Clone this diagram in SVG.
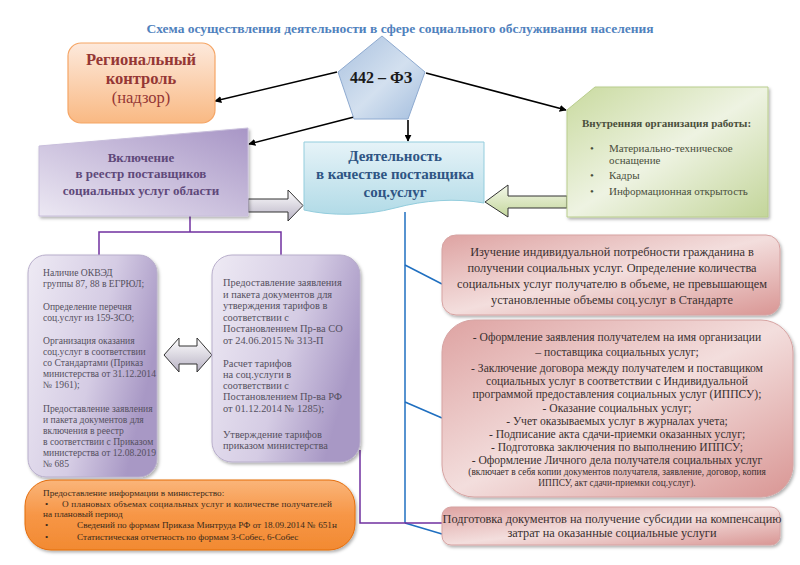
<svg xmlns="http://www.w3.org/2000/svg" width="800" height="565" viewBox="0 0 800 565" font-family="'Liberation Serif', 'DejaVu Serif', 'Times New Roman', serif">
<style>
svg text{font-family:'Liberation Serif','DejaVu Serif','Times New Roman',serif}
.title{font-size:13.5px;font-weight:bold;fill:#4f81bd}
.reg{font-size:16.5px;fill:#953735;text-anchor:middle}
.b{font-weight:bold}
.law{font-size:16px;font-weight:bold;fill:#1a1a1a;text-anchor:middle}
.incl{font-size:13px;font-weight:bold;fill:#5f497a;text-anchor:middle}
.act{font-size:15px;font-weight:bold;fill:#2f5584;text-anchor:middle}
.grn{font-size:11px;fill:#4a4f3c}
.lft{font-size:9.6px;fill:#555060}
.mid{font-size:10.4px;fill:#555060}
.pk{font-size:12.3px;fill:#3a3030;text-anchor:middle}
.pk2{font-size:11.6px;fill:#3a3030;text-anchor:middle}
.pks{font-size:9.4px;fill:#3a3030;text-anchor:middle}
.org{font-size:9.2px;fill:#3a2a1a}
.blk{stroke:#000;stroke-width:1.6;fill:none;marker-end:url(#ah)}
.blu{stroke:#1f6fc0;stroke-width:1.5;fill:none}
.pur{stroke:#7030a0;stroke-width:1.5;fill:none}
</style>
<defs>
<marker id="ah" viewBox="0 0 10 10" refX="9" refY="5" markerWidth="7" markerHeight="7" orient="auto-start-reverse" markerUnits="userSpaceOnUse">
<path d="M0,0 L10,5 L0,10 z" fill="#000"/>
</marker>
<filter id="sh" x="-10%" y="-10%" width="125%" height="130%">
<feDropShadow dx="1.5" dy="2" stdDeviation="1.5" flood-color="#000" flood-opacity="0.3"/>
</filter>
<linearGradient id="gOr" x1="0" y1="0" x2="0" y2="1"><stop offset="0" stop-color="#fde9dc"/><stop offset="1" stop-color="#f9b983"/></linearGradient>
<linearGradient id="gPent" x1="0" y1="0" x2="1" y2="1"><stop offset="0" stop-color="#a9c1df"/><stop offset="0.55" stop-color="#d3e0ef"/><stop offset="1" stop-color="#a4bede"/></linearGradient>
<linearGradient id="gPur" x1="1" y1="0" x2="0" y2="1"><stop offset="0" stop-color="#a896c6"/><stop offset="1" stop-color="#ece8f3"/></linearGradient>
<linearGradient id="gBlu" x1="0" y1="0" x2="0" y2="1"><stop offset="0" stop-color="#e6f3f8"/><stop offset="1" stop-color="#b2dbe7"/></linearGradient>
<linearGradient id="gGrn" x1="0" y1="0" x2="1" y2="1"><stop offset="0" stop-color="#c9da9f"/><stop offset="0.5" stop-color="#eef3e2"/><stop offset="1" stop-color="#c3d59a"/></linearGradient>
<linearGradient id="gLav" x1="0" y1="0" x2="1" y2="0.4"><stop offset="0" stop-color="#eeeaf4"/><stop offset="0.6" stop-color="#d5cce4"/><stop offset="1" stop-color="#a898c5"/></linearGradient>
<linearGradient id="gPk" x1="0" y1="0" x2="1" y2="1"><stop offset="0" stop-color="#dea3a2"/><stop offset="0.5" stop-color="#f3dedd"/><stop offset="1" stop-color="#d99694"/></linearGradient>
<linearGradient id="gOrg" x1="0" y1="0" x2="0" y2="1"><stop offset="0" stop-color="#fab57a"/><stop offset="0.5" stop-color="#f79646"/><stop offset="1" stop-color="#f28a32"/></linearGradient>
<linearGradient id="gArr" x1="0" y1="0" x2="0" y2="1"><stop offset="0" stop-color="#ffffff"/><stop offset="1" stop-color="#b8b2c4"/></linearGradient>
<linearGradient id="gArrG" x1="0" y1="0" x2="0" y2="1"><stop offset="0" stop-color="#f4f8ea"/><stop offset="1" stop-color="#c3d69b"/></linearGradient>
</defs>
<rect width="800" height="565" fill="#fff"/>
<text class="title" x="400" y="33" text-anchor="middle">Схема осуществления деятельности в сфере социального обслуживания населения</text>
<g id="connectors">
<line class="blk" x1="337" y1="72" x2="215" y2="101"/>
<line class="blk" x1="426" y1="73" x2="566" y2="110"/>
<line class="blk" x1="354" y1="117" x2="249" y2="144"/>
<line class="blk" x1="408" y1="120" x2="408" y2="141"/>
<polyline class="blu" points="405,212 405,523"/>
<line class="blu" x1="405" y1="265" x2="442" y2="284"/>
<line class="blu" x1="405" y1="402" x2="442" y2="418"/>
<line class="blu" x1="405" y1="523" x2="442" y2="534"/>
<polyline class="pur" points="190,216 190,232"/>
<polyline class="pur" points="99,255 99,232 281,232 281,255"/>
<polyline class="pur" points="360,450 360,523 442,523"/>
<polygon points="248,199 288,199 288,190 303,205.5 288,221 288,212 248,212" fill="url(#gArr)" stroke="#333" stroke-width="1"/>
<polygon points="567,196 508,196 508,185 485,202 508,217 508,208 567,208" fill="url(#gArrG)" stroke="#333" stroke-width="1"/>
<polygon points="164,355 179,338 179,346 197,346 197,338 212,355 197,372 197,364 179,364 179,372" fill="url(#gArr)" stroke="#333" stroke-width="1"/>
</g>
<g id="regional">
<rect x="68" y="43" width="147" height="80" rx="13" fill="url(#gOr)" stroke="#f5a565" stroke-width="1.2"/>
<text class="reg b" x="141" y="65">Региональный</text>
<text class="reg b" x="141" y="84">контроль</text>
<text class="reg" x="141" y="103">(надзор)</text>
</g>
<g id="law">
<polygon points="382,36 425,72 408,119 354,119 338,72" fill="url(#gPent)" stroke="#8eaad0" stroke-width="1"/>
<text class="law" x="381" y="83">442 – ФЗ</text>
</g>
<g id="inner">
<polygon points="567,110 595,87 768,87 768,217 567,217" fill="url(#gGrn)" stroke="#b9cd8c" stroke-width="1" filter="url(#sh)"/>
<text class="grn b" x="582" y="127" font-size="10.6px">Внутренняя организация работы:</text>
<text class="grn" x="590" y="152">•</text><text class="grn" x="609" y="152">Материально-техническое</text>
<text class="grn" x="609" y="164">оснащение</text>
<text class="grn" x="590" y="179">•</text><text class="grn" x="609" y="179">Кадры</text>
<text class="grn" x="590" y="195">•</text><text class="grn" x="609" y="195">Информационная открытость</text>
</g>
<g id="inclusion">
<polygon points="39,146 248,128 248,216 39,216" fill="url(#gPur)" stroke="#c8bedb" stroke-width="1" filter="url(#sh)"/>
<text class="incl" x="141" y="162">Включение</text>
<text class="incl" x="141" y="178">в реестр поставщиков</text>
<text class="incl" x="141" y="195">социальных услуг области</text>
</g>
<g id="activity">
<path d="M304,142 H484 V203 C455,198 425,200 395,208 C365,216 330,216 304,210 Z" fill="url(#gBlu)" stroke="#93cddd" stroke-width="1"/>
<text class="act" x="395" y="161">Деятельность</text>
<text class="act" x="395" y="179">в качестве поставщика</text>
<text class="act" x="395" y="197">соц.услуг</text>
</g>
<g id="left-box">
<rect x="28" y="255" width="129" height="222" rx="18" fill="url(#gLav)" stroke="#b8aecb" stroke-width="1" filter="url(#sh)"/>
<text class="lft" x="43" y="276">Наличие ОКВЭД</text>
<text class="lft" x="43" y="287">группы 87, 88 в ЕГРЮЛ;</text>
<text class="lft" x="43" y="310">Определение перечня</text>
<text class="lft" x="43" y="321">соц.услуг из 159-ЗСО;</text>
<text class="lft" x="43" y="344">Организация оказания</text>
<text class="lft" x="43" y="355">соц.услуг в соответствии</text>
<text class="lft" x="43" y="366">со Стандартами (Приказ</text>
<text class="lft" x="43" y="377">министерства от 31.12.2014</text>
<text class="lft" x="43" y="388">№ 1961);</text>
<text class="lft" x="43" y="412">Предоставление заявления</text>
<text class="lft" x="43" y="423">и пакета документов для</text>
<text class="lft" x="43" y="434">включения в реестр</text>
<text class="lft" x="43" y="445">в соответствии с Приказом</text>
<text class="lft" x="43" y="456">министерства от 12.08.2019</text>
<text class="lft" x="43" y="467">№ 685</text>
</g>
<g id="mid-box">
<rect x="212" y="255" width="148" height="207" rx="20" fill="url(#gLav)" stroke="#b8aecb" stroke-width="1" filter="url(#sh)"/>
<text class="mid" x="223" y="286">Предоставление заявления</text>
<text class="mid" x="223" y="298">и пакета документов для</text>
<text class="mid" x="223" y="309">утверждения тарифов в</text>
<text class="mid" x="223" y="321">соответствии с</text>
<text class="mid" x="223" y="332">Постановлением Пр-ва СО</text>
<text class="mid" x="223" y="344">от 24.06.2015 № 313-П</text>
<text class="mid" x="223" y="367">Расчет тарифов</text>
<text class="mid" x="223" y="378">на соц.услуги в</text>
<text class="mid" x="223" y="389">соответствии с</text>
<text class="mid" x="223" y="400">Постановлением Пр-ва РФ</text>
<text class="mid" x="223" y="412">от 01.12.2014 № 1285);</text>
<text class="mid" x="223" y="438">Утверждение тарифов</text>
<text class="mid" x="223" y="449">приказом министерства</text>
</g>
<g id="pink1">
<rect x="442" y="235" width="338" height="80" rx="14" fill="url(#gPk)" stroke="#d6a3a2" stroke-width="1" filter="url(#sh)"/>
<text class="pk" x="612" y="256">Изучение индивидуальной потребности гражданина в</text>
<text class="pk" x="612" y="272">получении социальных услуг. Определение количества</text>
<text class="pk" x="612" y="288">социальных услуг получателю в объеме, не превышающем</text>
<text class="pk" x="612" y="304">установленные объемы соц.услуг в  Стандарте</text>
</g>
<g id="pink2">
<rect x="442" y="320" width="351" height="177" rx="32" fill="url(#gPk)" stroke="#d6a3a2" stroke-width="1" filter="url(#sh)"/>
<text class="pk2" x="617" y="341">- Оформление заявления получателем на имя организации</text>
<text class="pk2" x="617" y="356">– поставщика социальных услуг;</text>
<text class="pk2" x="617" y="372">- Заключение договора между получателем и поставщиком</text>
<text class="pk2" x="617" y="385">социальных услуг в соответствии с Индивидуальной</text>
<text class="pk2" x="617" y="398">программой предоставления социальных услуг (ИППСУ);</text>
<text class="pk2" x="617" y="412">- Оказание социальных услуг;</text>
<text class="pk2" x="617" y="425">- Учет оказываемых услуг в журналах учета;</text>
<text class="pk2" x="617" y="438">- Подписание акта сдачи-приемки оказанных услуг;</text>
<text class="pk2" x="617" y="451">- Подготовка заключения по выполнению ИППСУ;</text>
<text class="pk2" x="617" y="464">- Оформление Личного дела получателя социальных услуг</text>
<text class="pks" x="617" y="475">(включает в себя копии документов получателя, заявление, договор, копия</text>
<text class="pks" x="617" y="486">ИППСУ, акт сдачи-приемки соц.услуг).</text>
</g>
<g id="pink3">
<rect x="442" y="507" width="338" height="38" rx="9" fill="url(#gPk)" stroke="#d6a3a2" stroke-width="1" filter="url(#sh)"/>
<text class="pk" x="612" y="523">Подготовка документов на получение субсидии на компенсацию</text>
<text class="pk" x="612" y="537">затрат на оказанные социальные услуги</text>
</g>
<g id="ministry-info">
<rect x="25" y="480" width="330" height="70" rx="26" fill="url(#gOrg)" stroke="#e46c0a" stroke-width="1" filter="url(#sh)"/>
<text class="org" x="43" y="496">Предоставление информации в министерство:</text>
<text class="org" x="45" y="507">•</text>
<text class="org" x="62" y="507" textLength="270" lengthAdjust="spacing">О плановых объемах социальных услуг и количестве получателей</text>
<text class="org" x="43" y="517">на плановый период</text>
<text class="org" x="45" y="528">•</text>
<text class="org" x="77" y="528">Сведений по формам Приказа Минтруда РФ от 18.09.2014 № 651н</text>
<text class="org" x="45" y="540">•</text>
<text class="org" x="77" y="540">Статистическая отчетность по формам 3-Собес, 6-Собес</text>
</g>
</svg>
